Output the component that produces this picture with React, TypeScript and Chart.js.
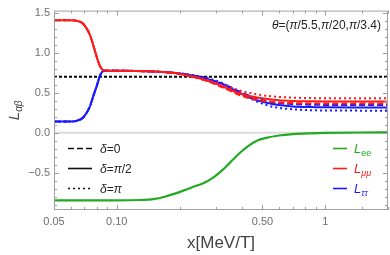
import React, { useEffect, useRef } from "react";
import { Chart, registerables } from "chart.js";
Chart.register(...registerables);

// ---------- data ----------
const xEarly = [0.05, 0.06, 0.064, 0.069, 0.0744, 0.077, 0.0803, 0.083, 0.0862, 0.09, 0.1, 0.12, 0.15, 0.18];
const redEarly = [1.405, 1.405, 1.398, 1.36, 1.22, 1.1, 0.94, 0.835, 0.78, 0.775, 0.775, 0.772, 0.765, 0.752];
const blueEarly = [0.14, 0.14, 0.148, 0.19, 0.33, 0.45, 0.59, 0.71, 0.77, 0.775, 0.775, 0.772, 0.765, 0.752];

const xSplit = [0.2, 0.23, 0.26, 0.3, 0.34, 0.38, 0.42, 0.47, 0.53, 0.6, 0.7, 0.85, 1.0, 1.4, 2.0];
const redSolid = [0.735, 0.7, 0.665, 0.61, 0.55, 0.5, 0.465, 0.44, 0.42, 0.405, 0.397, 0.393, 0.391, 0.39, 0.39];
const redDashed = [0.735, 0.7, 0.66, 0.6, 0.54, 0.48, 0.44, 0.41, 0.39, 0.378, 0.37, 0.366, 0.365, 0.365, 0.365];
const redDotted = [0.738, 0.705, 0.675, 0.625, 0.575, 0.535, 0.505, 0.48, 0.46, 0.447, 0.438, 0.433, 0.431, 0.43, 0.43];
const blueSolid = [0.74, 0.715, 0.685, 0.635, 0.575, 0.51, 0.455, 0.405, 0.37, 0.345, 0.328, 0.32, 0.317, 0.315, 0.315];
const blueDashed = [0.74, 0.715, 0.687, 0.64, 0.585, 0.525, 0.475, 0.43, 0.395, 0.372, 0.358, 0.35, 0.347, 0.345, 0.345];
const blueDotted = [0.742, 0.72, 0.695, 0.65, 0.59, 0.52, 0.455, 0.39, 0.34, 0.31, 0.292, 0.281, 0.278, 0.276, 0.275];

const xGreen = [0.05, 0.1, 0.13, 0.15, 0.17, 0.19, 0.21, 0.23, 0.26, 0.29, 0.32, 0.35, 0.39, 0.43, 0.47, 0.52, 0.6, 0.7, 0.85, 1.0, 1.5, 2.0];
const greenVals = [-0.845, -0.845, -0.84, -0.83, -0.8, -0.76, -0.72, -0.68, -0.63, -0.56, -0.47, -0.37, -0.25, -0.16, -0.1, -0.065, -0.035, -0.018, -0.008, -0.003, 0.003, 0.005];

const xRef = [0.05, 2.0];
const refVals = [0.7, 0.7];

const xTickVals = [0.05, 0.1, 0.5, 1];
const xTickLabels = ["0.05", "0.10", "0.50", "1"];
const xMinorVals = [0.06, 0.07, 0.08, 0.09, 0.2, 0.3, 0.4, 0.6, 0.7, 0.8, 0.9, 1.5, 2];
const yTickVals = [-0.5, 0, 0.5, 1.0, 1.5];
const yTickLabels = ["\u22120.5", "0.0", "0.5", "1.0", "1.5"];
const yMinorVals = [-0.9, -0.8, -0.7, -0.6, -0.4, -0.3, -0.2, -0.1, 0.1, 0.2, 0.3, 0.4, 0.6, 0.7, 0.8, 0.9, 1.1, 1.2, 1.3, 1.4];

const RED = "#ff1a1a";
const BLUE = "#1a1aff";
const GREEN = "#22aa22";
const FONT = "'Liberation Sans', Arial, sans-serif";
const DOT = [2, 3];
const DASH = [6, 3];

const pts = (xs: number[], ys: number[]) => xs.map((x, i) => ({ x, y: ys[i] }));

type Seg = { t: string; it?: boolean; size?: number; dy?: number; color?: string };
function drawRich(ctx: CanvasRenderingContext2D, x: number, y: number, segs: Seg[], baseSize: number, color: string, align: "left" | "center" = "left") {
  const fontOf = (s: Seg) => `${s.it ? "italic " : ""}${s.size || baseSize}px ${FONT}`;
  let total = 0;
  for (const s of segs) {
    ctx.font = fontOf(s);
    total += ctx.measureText(s.t).width;
  }
  let cx = align === "center" ? x - total / 2 : x;
  ctx.textBaseline = "alphabetic";
  ctx.textAlign = "left";
  for (const s of segs) {
    ctx.font = fontOf(s);
    ctx.fillStyle = s.color || color;
    ctx.fillText(s.t, cx, y + (s.dy || 0));
    cx += ctx.measureText(s.t).width;
  }
}

const decor = {
  id: "decor",
  beforeDatasetsDraw(chart: any) {
    const { ctx, chartArea: a, scales } = chart;
    const y0 = scales.y.getPixelForValue(0);
    ctx.save();
    ctx.strokeStyle = "#dcdcdc";
    ctx.lineWidth = 2;
    ctx.beginPath();
    ctx.moveTo(a.left, y0);
    ctx.lineTo(a.right, y0);
    ctx.stroke();
    ctx.restore();
  },
  afterDraw(chart: any) {
    const { ctx, chartArea: a, scales } = chart;
    const xs = scales.x, ys = scales.y;
    ctx.save();
    ctx.strokeStyle = "#a0a0a0";
    ctx.lineWidth = 1;
    ctx.strokeRect(a.left + 0.5, a.top + 0.5, a.right - a.left - 1, a.bottom - a.top - 1);
    ctx.beginPath();
    const xt = (v: number, len: number) => {
      const p = Math.round(xs.getPixelForValue(v)) + 0.5;
      ctx.moveTo(p, a.bottom); ctx.lineTo(p, a.bottom - len);
      ctx.moveTo(p, a.top); ctx.lineTo(p, a.top + len);
    };
    const yt = (v: number, len: number) => {
      const p = Math.round(ys.getPixelForValue(v)) + 0.5;
      ctx.moveTo(a.left, p); ctx.lineTo(a.left + len, p);
      ctx.moveTo(a.right, p); ctx.lineTo(a.right - len, p);
    };
    xTickVals.forEach((v) => xt(v, 5));
    xMinorVals.forEach((v) => xt(v, 3));
    yTickVals.forEach((v) => yt(v, 5));
    yMinorVals.forEach((v) => yt(v, 3));
    ctx.stroke();

    ctx.fillStyle = "#444";
    ctx.font = `17px ${FONT}`;
    ctx.textAlign = "center";
    ctx.textBaseline = "middle";
    ctx.fillText("x[MeV/T]", (a.left + a.right) / 2, 243);

    ctx.save();
    ctx.translate(19, (a.top + a.bottom) / 2);
    ctx.rotate(-Math.PI / 2);
    drawRich(ctx, 0, 0, [{ t: "L", it: true }, { t: "\u03b1\u03b2", it: true, size: 10, dy: 3 }], 15, "#444", "center");
    ctx.restore();

    drawRich(ctx, 272, 29, [
      { t: "\u03b8", it: true }, { t: "=(" }, { t: "\u03c0", it: true }, { t: "/5.5," },
      { t: "\u03c0", it: true }, { t: "/20," }, { t: "\u03c0", it: true }, { t: "/3.4)" },
    ], 12, "#222");

    const leg1 = [
      { dash: DASH, segs: [{ t: "\u03b4", it: true }, { t: "=0" }] },
      { dash: [], segs: [{ t: "\u03b4", it: true }, { t: "=" }, { t: "\u03c0", it: true }, { t: "/2" }] },
      { dash: DOT, segs: [{ t: "\u03b4", it: true }, { t: "=" }, { t: "\u03c0", it: true }] },
    ];
    leg1.forEach((l, i) => {
      const y = 148.5 + i * 20;
      ctx.beginPath();
      ctx.setLineDash(l.dash);
      ctx.strokeStyle = "#111";
      ctx.lineWidth = 1.6;
      ctx.moveTo(68, y); ctx.lineTo(92, y);
      ctx.stroke();
      ctx.setLineDash([]);
      drawRich(ctx, 100, y + 4.5, l.segs as Seg[], 12, "#222");
    });

    const leg2 = [
      { c: GREEN, sub: "ee" },
      { c: RED, sub: "\u03bc\u03bc" },
      { c: BLUE, sub: "\u03c4\u03c4" },
    ];
    leg2.forEach((l, i) => {
      const y = 148.5 + i * 20;
      ctx.beginPath();
      ctx.strokeStyle = l.c;
      ctx.lineWidth = 1.6;
      ctx.moveTo(333, y); ctx.lineTo(347, y);
      ctx.stroke();
      drawRich(ctx, 354, y + 4.5, [{ t: "L", it: true }, { t: l.sub, it: l.sub !== "ee", size: 9, dy: 2.5 }], 13, l.c);
    });
    ctx.restore();
  },
};

export default function App() {
  const ref = useRef<HTMLCanvasElement | null>(null);
  useEffect(() => {
    if (!ref.current) return;
    const line = (data: any, color: string, dash: number[], width = 2) => ({
      data,
      borderColor: color,
      borderWidth: width,
      borderDash: dash,
      pointRadius: 0,
      fill: false,
      cubicInterpolationMode: "monotone" as const,
    });
    const chart = new Chart(ref.current, {
      type: "line",
      data: {
        datasets: [
          line(pts(xGreen, greenVals), GREEN, [], 2.2),
          line(pts([...xEarly, ...xSplit], [...redEarly, ...redDotted]), RED, DOT),
          line(pts([...xEarly, ...xSplit], [...redEarly, ...redDashed]), RED, DASH),
          line(pts([...xEarly, ...xSplit], [...redEarly, ...redSolid]), RED, []),
          line(pts([...xEarly, ...xSplit], [...blueEarly, ...blueDotted]), BLUE, DOT),
          line(pts([...xEarly, ...xSplit], [...blueEarly, ...blueDashed]), BLUE, DASH),
          line(pts([...xEarly, ...xSplit], [...blueEarly, ...blueSolid]), BLUE, []),
          line(pts(xRef, refVals), "#000", [3, 2], 2),
        ],
      },
      options: {
        responsive: false,
        animation: false,
        layout: { padding: { top: 3, right: 2, left: 0, bottom: 0 } },
        plugins: { legend: { display: false }, tooltip: { enabled: false } },
        scales: {
          x: {
            type: "logarithmic",
            min: 0.05,
            max: 2,
            grid: { display: false, drawTicks: false },
            border: { display: false },
            afterBuildTicks: (s: any) => { s.ticks = xTickVals.map((v) => ({ value: v })); },
            afterFit: (s: any) => { s.height = 45; },
            ticks: {
              autoSkip: false,
              maxRotation: 0,
              padding: 5,
              color: "#6e6e6e",
              font: { family: FONT, size: 11 },
              callback: (_v: any, i: number) => xTickLabels[i],
            },
          },
          y: {
            type: "linear",
            min: -0.965,
            max: 1.525,
            grid: { display: false, drawTicks: false },
            border: { display: false },
            afterBuildTicks: (s: any) => { s.ticks = yTickVals.map((v) => ({ value: v })); },
            afterFit: (s: any) => { s.width = 54; },
            ticks: {
              padding: 4,
              color: "#6e6e6e",
              font: { family: FONT, size: 11 },
              callback: (_v: any, i: number) => yTickLabels[i],
            },
          },
        },
      },
      plugins: [decor],
    });
    return () => chart.destroy();
  }, []);
  return (
    <div style={{ position: "absolute", left: 0, top: 0, width: 390, height: 255, background: "#fff" }}>
      <canvas ref={ref} width={390} height={255} style={{ width: 390, height: 255, display: "block" }} />
    </div>
  );
}
